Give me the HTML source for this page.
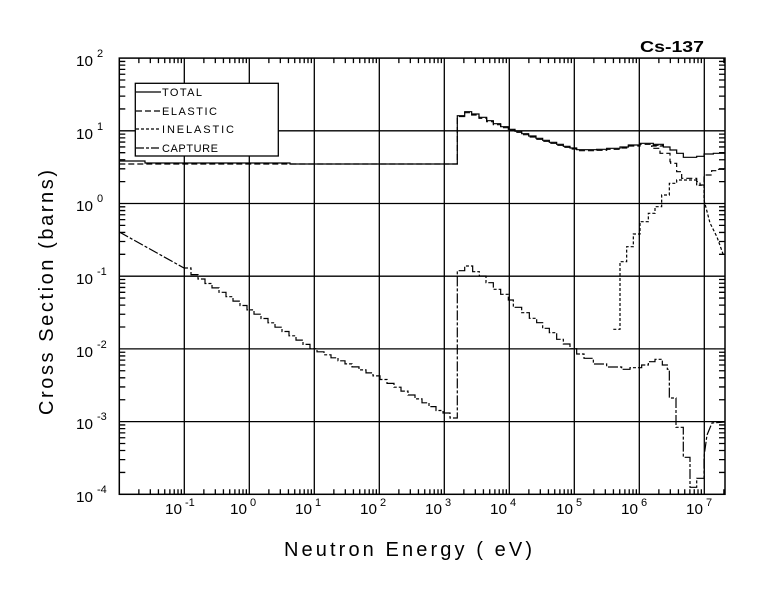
<!DOCTYPE html>
<html><head><meta charset="utf-8"><style>
html,body{margin:0;padding:0;background:#fff;}
svg{display:block;}
text{font-family:"Liberation Sans",sans-serif;fill:#000;}
</style></head><body>
<svg id="s" width="780" height="590" viewBox="0 0 780 590" xmlns="http://www.w3.org/2000/svg">
<rect width="780" height="590" fill="#fff"/>
<g id="grid" stroke="#000" stroke-width="1.3" fill="none"></g>
<rect x="119.3" y="58.1" width="605.7" height="436.2" fill="none" stroke="#000" stroke-width="1.5"/>
<text x="640" y="52" font-size="16" font-weight="bold" textLength="64" lengthAdjust="spacingAndGlyphs">Cs-137</text>
<g font-size="15">
<text x="76" y="66" textLength="17" lengthAdjust="spacingAndGlyphs">10</text><text x="97" y="57" font-size="11">2</text>
<text x="76" y="139" textLength="17" lengthAdjust="spacingAndGlyphs">10</text><text x="97" y="130" font-size="11">1</text>
<text x="76" y="211" textLength="17" lengthAdjust="spacingAndGlyphs">10</text><text x="97" y="202" font-size="11">0</text>
<text x="76" y="284" textLength="17" lengthAdjust="spacingAndGlyphs">10</text><text x="97" y="275" font-size="11">-1</text>
<text x="76" y="357" textLength="17" lengthAdjust="spacingAndGlyphs">10</text><text x="97" y="348" font-size="11">-2</text>
<text x="76" y="429" textLength="17" lengthAdjust="spacingAndGlyphs">10</text><text x="97" y="420" font-size="11">-3</text>
<text x="76" y="502" textLength="17" lengthAdjust="spacingAndGlyphs">10</text><text x="97" y="493" font-size="11">-4</text>
<text x="165" y="514" textLength="17" lengthAdjust="spacingAndGlyphs">10</text><text x="185" y="506" font-size="11">-1</text>
<text x="230" y="514" textLength="17" lengthAdjust="spacingAndGlyphs">10</text><text x="250" y="506" font-size="11">0</text>
<text x="295" y="514" textLength="17" lengthAdjust="spacingAndGlyphs">10</text><text x="315" y="506" font-size="11">1</text>
<text x="360" y="514" textLength="17" lengthAdjust="spacingAndGlyphs">10</text><text x="380" y="506" font-size="11">2</text>
<text x="425" y="514" textLength="17" lengthAdjust="spacingAndGlyphs">10</text><text x="445" y="506" font-size="11">3</text>
<text x="490" y="514" textLength="17" lengthAdjust="spacingAndGlyphs">10</text><text x="510" y="506" font-size="11">4</text>
<text x="556" y="514" textLength="17" lengthAdjust="spacingAndGlyphs">10</text><text x="576" y="506" font-size="11">5</text>
<text x="621" y="514" textLength="17" lengthAdjust="spacingAndGlyphs">10</text><text x="641" y="506" font-size="11">6</text>
<text x="686" y="514" textLength="17" lengthAdjust="spacingAndGlyphs">10</text><text x="706" y="506" font-size="11">7</text>
</g>
<text x="284" y="556" font-size="20" textLength="248" lengthAdjust="spacing">Neutron Energy (  eV)</text>
<text transform="translate(53,415) rotate(-90)" font-size="20" textLength="245" lengthAdjust="spacing">Cross Section (barns)</text>
<rect x="135.3" y="83.3" width="143" height="72.7" fill="#fff" stroke="#000" stroke-width="1.3"/>
<g stroke="#000" stroke-width="1.2">
<line x1="136" y1="92" x2="161" y2="92"/>
<line x1="136" y1="111" x2="161" y2="111" stroke-dasharray="6,3"/>
<line x1="136" y1="129" x2="161" y2="129" stroke-dasharray="3,2"/>
<line x1="136" y1="148" x2="161" y2="148" stroke-dasharray="8,2,3,2"/>
</g>
<g font-size="11">
<text x="162" y="96" textLength="40" lengthAdjust="spacing">TOTAL</text>
<text x="162" y="115" textLength="55" lengthAdjust="spacing">ELASTIC</text>
<text x="162" y="133" textLength="72" lengthAdjust="spacing">INELASTIC</text>
<text x="162" y="152" textLength="56" lengthAdjust="spacing">CAPTURE</text>
</g>
<g fill="none" stroke="#000" stroke-width="1.2">
<path id="tot" d=""/>
<path id="ela" stroke-dasharray="6,3" d=""/>
<path id="ine" stroke-dasharray="3,2" d=""/>
<path id="cap" stroke-dasharray="10,2,3,2" d=""/>
</g>
</svg>
<script>
(function(){
var g=document.getElementById('grid'),s='';
var L=119.3,R=725,T=58.1,B=494.3,dx=65,dy=72.7;
function X(l){return L+(l+2)*dx;}
function Y(l){return B-(l+4)*dy;}
for(var e=-1;e<=7;e++){var x=X(e);s+='M'+x+' '+T+'V'+B;}
for(var e=-3;e<=1;e++){var y=Y(e);s+='M'+L+' '+y+'H'+R;}
for(var e=-2;e<=7;e++)for(var m=2;m<=9;m++){var x=X(e+Math.log10(m));if(x>L&&x<R){s+='M'+x+' '+B+'v-5M'+x+' '+T+'v5';}}
for(var e=-4;e<=1;e++)for(var m=2;m<=9;m++){var y=Y(e+Math.log10(m));s+='M'+L+' '+y+'h6M'+R+' '+y+'h-6';}
var p=document.createElementNS('http://www.w3.org/2000/svg','path');p.setAttribute('d',s);g.appendChild(p);
function steps(pts){var d='M'+pts[0][0]+' '+pts[0][1];for(var i=0;i<pts.length;i++){var q=pts[i];d+='V'+q[1]+'H'+q[2];}return d;}
function Z(zx,zy){return [430+zx/3,100+zy/3];}
// total
var t='M119.3 161H145V163H290V164H457.3V115.7H464.7';
var tz=[[104,35,125],[125,42,147],[147,52,170],[170,62,190],[190,71,212],[212,80,235],[235,88,255],[255,94,275],[275,101,296],[296,108,318],[318,115,338],[338,121,358],[358,127,380],[380,133,400],[400,139,420],[420,144,440],[440,149,500],[500,148,530],[530,145,570],[570,141,595],[595,135,630],[630,130,670],[670,133,700],[700,141,720],[720,150,740],[740,160,760],[760,172,800],[800,169,822],[822,162,850],[850,160,885]];
tz.forEach(function(a){t+='V'+(100+a[1]/3)+'H'+(430+a[2]/3);});
document.getElementById('tot').setAttribute('d',t);
// elastic
var el='M119.3 164H457.3V116.5H464.7';
tz.slice(0,23).forEach(function(a){el+='V'+(101+a[1]/3)+'H'+(430+a[2]/3);});
var ez=[[630,138,665],[665,145,690],[690,160,720],[720,185,722],[722,190,740],[740,215,755],[755,235,800],[800,245,810],[810,255,822],[822,225,845],[845,212,860],[860,208,880],[880,215,885]];
ez.forEach(function(a){el+='V'+(100+a[1]/3)+'H'+(430+a[2]/3);});
document.getElementById('ela').setAttribute('d',el);
// inelastic
var iz=[[570,485,590],[590,440,610],[610,402,630],[630,365,655],[655,340,675],[675,320,695],[695,285,718],[718,250,740],[740,240,800],[800,256,822]];
var ine='M613.3 329.3H620';
iz.forEach(function(a){ine+='V'+(100+a[1]/3)+'H'+(430+a[2]/3);});
ine+='L704 200L710 223L717 237L723 254L725 256';
document.getElementById('ine').setAttribute('d',ine);
// capture
var kp=[[119.3,232],[184,268],[249,309],[314,349],[379,377],[444,413]];
function cy(x){for(var i=0;i<kp.length-1;i++){if(x<=kp[i+1][0]){var a=kp[i],b=kp[i+1];return a[1]+(b[1]-a[1])*(x-a[0])/(b[0]-a[0]);}}return 413;}
var c='M119.3 232L184 268';
for(var x=184;x<444;x+=7){var x2=Math.min(x+7,444);c+='H'+x2+'V'+cy(x2+3.5).toFixed(1);}
c+='H450V418H457.3V270.7H464.7';
var cz=[[48,128],[65,148],[78,168],[98,190],[118,212],[133,235],[150,250],[172,275],[188,298],[205,320],[218,338],[235,358],[248,380],[268,400],[282,420],[296,440],[312,462],[325,490],[342,530],[351,575],[358,600],[353,635],[345,655],[335,675],[328,697],[345,712],[358,718]];
cz.forEach(function(a){c+='V'+(250+a[0]/3)+'H'+(430+a[1]/3);});
c+='V398H676V427.3H683.3V457.3H690V487.3H696.7V478.3H704V456.7L707 435L712 423L725 422';
document.getElementById('cap').setAttribute('d',c);
})();
</script>
</body></html>
